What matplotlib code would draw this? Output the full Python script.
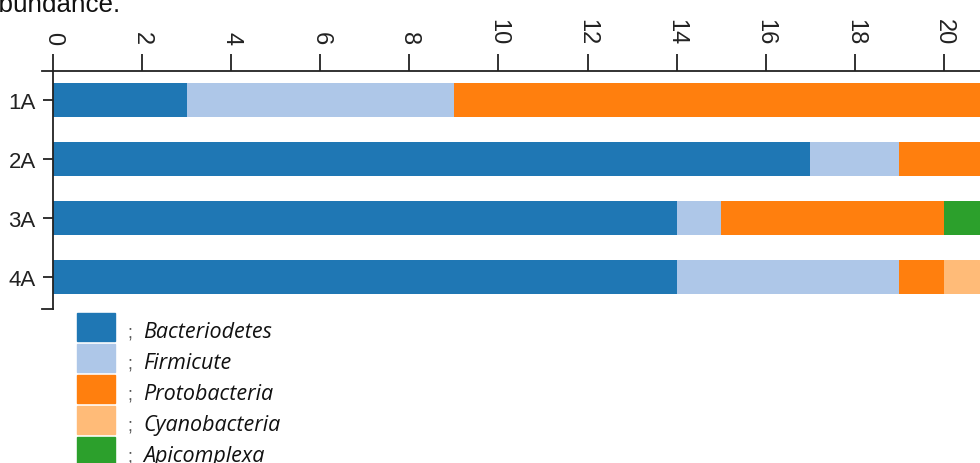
import numpy as np
import matplotlib
matplotlib.use("Agg")
from matplotlib import pyplot as plt
from matplotlib.patches import Rectangle
from matplotlib.lines import Line2D

plt.rcParams['font.family'] = ['Liberation Sans', 'DejaVu Sans']

samples = ['1A', '2A', '3A', '4A']
phyla = ['Bacteriodetes', 'Firmicute', 'Protobacteria', 'Cyanobacteria', 'Apicomplexa']
bacteriodetes = [3, 17, 14, 14]
firmicute = [6, 2, 1, 5]
protobacteria = [12, 3, 5, 1]
cyanobacteria = [0, 0, 0, 1.5]
apicomplexa = [0, 0, 1.5, 0]
colors = ['#1f77b4', '#aec7e8', '#ff7f0e', '#ffbb78', '#2ca02c']
xticks = list(range(0, 21, 2))

series = [bacteriodetes, firmicute, protobacteria, cyanobacteria, apicomplexa]

W, H = 980, 464
fig = plt.figure(figsize=(W / 100, H / 100), dpi=100)


def fx(px):
    return px / W


def fy(py):
    return 1 - py / H


ax = fig.add_axes([fx(53), fy(310), fx(927), 238 / H])

left = np.zeros(len(samples))
for name, vals, col in zip(phyla, series, colors):
    vals = np.array(vals, dtype=float)
    ax.barh(samples, vals, left=left, height=0.593, color=col, label=name, linewidth=0)
    left += vals

ax.set_xlim(0, 20.81)
ax.set_ylim(3 + 32 / 59, -29 / 59)

ax.xaxis.tick_top()
ax.set_xticks(xticks)
ax.tick_params(axis='x', length=12.5, width=1.3, pad=7, labelsize=17, labelrotation=-90, colors='#222222')
ax.tick_params(axis='y', length=7.5, width=1.3, pad=5, labelsize=16, colors='#222222')
for s in ['right', 'bottom']:
    ax.spines[s].set_visible(False)
for s in ['left', 'top']:
    ax.spines[s].set_linewidth(1.3)
    ax.spines[s].set_color('#222222')

# outer ticks of the y axis
for py in (72, 310):
    fig.add_artist(Line2D([fx(42), fx(53)], [fy(py), fy(py)], color='#222222', lw=1.3))

# legend
for i, (name, col) in enumerate(zip(phyla, colors)):
    top = 314 + 31 * i
    fig.add_artist(Rectangle((fx(77), fy(top + 28)), fx(38), 28 / H, color=col, transform=fig.transFigure))
    fig.text(fx(127), fy(top + 24), ';', fontsize=13, va='baseline', ha='left', color='#555555')
    fig.text(fx(143), fy(top + 24), name, fontsize=15.5, style='italic', va='baseline', ha='left',
             family=['Open Sans', 'DejaVu Sans'], color='#111111')

fig.text(fx(121), fy(12), 'abundance.', fontsize=18.7, ha='right', va='baseline', color='#111111')

fig.savefig('out.png', dpi=100)
